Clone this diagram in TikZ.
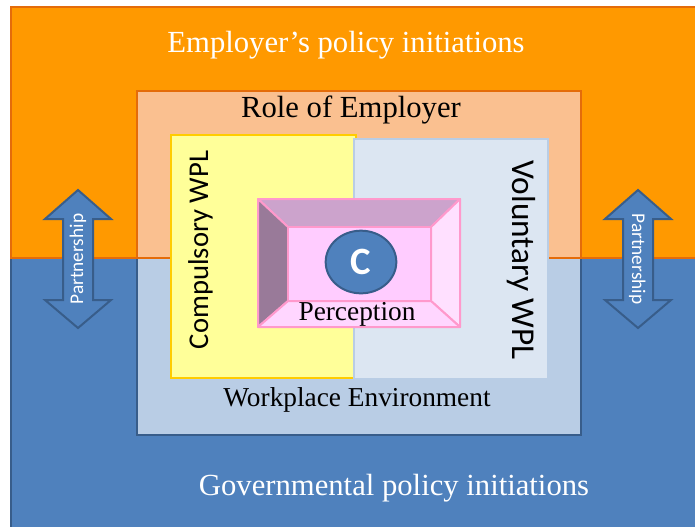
\documentclass[tikz,border=0pt]{standalone}
\usepackage{fontspec}
\setmainfont{Liberation Serif}
\setsansfont{Carlito}
\usetikzlibrary{shapes.geometric}
\definecolor{empOrange}{HTML}{FF9900}
\definecolor{empOrangeDark}{HTML}{E46C0A}
\definecolor{govBlue}{HTML}{4F81BD}
\definecolor{govBlueDark}{HTML}{385D8A}
\definecolor{rolePeach}{HTML}{FAC090}
\definecolor{workBlue}{HTML}{B9CDE5}
\definecolor{compYellow}{HTML}{FFFF99}
\definecolor{compGold}{HTML}{FFCC00}
\definecolor{volBlue}{HTML}{DCE6F2}
\definecolor{percPink}{HTML}{FF99CC}
\definecolor{percFace}{HTML}{FFCCFF}
\definecolor{bevelTop}{HTML}{CCA3CC}
\definecolor{bevelLeft}{HTML}{997A99}
\definecolor{bevelRight}{HTML}{FFE0FF}
\definecolor{bevelBottom}{HTML}{FFD6FF}
\tikzstyle{band}=[line width=1.5pt]
\tikzstyle{bevel}=[draw=percPink, line width=1.5pt, line join=round]
\tikzstyle{arrowline}=[draw=govBlueDark, fill=govBlue, line width=1.5pt]
\tikzstyle{bigtext}=[inner sep=0pt, font=\fontsize{23}{23}\selectfont]
\tikzstyle{midtext}=[inner sep=0pt, font=\fontsize{20.5}{20.5}\selectfont]
\tikzstyle{sidetext}=[inner sep=0pt, anchor=base, text=white, font=\sffamily\fontsize{14.5}{14.5}\selectfont]
\newcommand{\partnerArrow}[1]{\draw[arrowline, shift={(#1,0)}] (0,190) -- (33,219) -- (15,219) -- (15,300) -- (33,300) -- (0,328) -- (-33,300) -- (-15,300) -- (-15,219) -- (-33,219) -- cycle;}

\begin{document}
\begin{tikzpicture}[x=0.75pt,y=-0.75pt]
    \useasboundingbox (0,0) rectangle (695,526);
    \clip (0,0) rectangle (695,526);
    \fill[white] (0,0) rectangle (695,526);
    % policy bands
    \draw[band, fill=govBlue, draw=govBlueDark] (11,258) rectangle (710,540);
    \draw[band, fill=empOrange, draw=empOrangeDark] (11,7) rectangle (710,258);
    % employer and workplace
    \draw[band, fill=workBlue, draw=govBlueDark] (137,258) rectangle (581,435);
    \draw[band, fill=rolePeach, draw=empOrangeDark] (137,91) rectangle (581,258);
    % WPL boxes
    \draw[band, fill=compYellow, draw=compGold] (171,135) rectangle (356,378);
    \draw[band, fill=volBlue, draw=workBlue] (354,139) rectangle (548,379);
    % perception frame
    \draw[bevel, fill=bevelTop] (258,199) -- (460,199) -- (431,227) -- (288,227) -- cycle;
    \draw[bevel, fill=bevelLeft] (258,199) -- (288,227) -- (288,301) -- (258,327) -- cycle;
    \draw[bevel, fill=bevelRight] (460,199) -- (460,327) -- (431,301) -- (431,227) -- cycle;
    \draw[bevel, fill=bevelBottom] (258,327) -- (288,301) -- (431,301) -- (460,327) -- cycle;
    \draw[bevel, fill=percFace] (288,227) rectangle (431,301);
    % partnership arrows
    \partnerArrow{78}
    \partnerArrow{638}

    \node[bigtext, text=white, anchor=base] (empText) at (346,52) {Employer’s policy initiations};
    \node[bigtext, anchor=base] (roleText) at (351,117) {Role of Employer};
    \node[midtext, anchor=base] (workText) at (357,406) {Workplace Environment};
    \node[bigtext, text=white, anchor=base] (govText) at (394,495) {Governmental policy initiations};
    \node[midtext, anchor=base] (percText) at (357,320) {Perception};
    \node[ellipse, draw=govBlueDark, fill=govBlue, line width=1.5pt, minimum width=53pt, minimum height=47pt, inner sep=0pt, text=white, font=\sffamily\bfseries\fontsize{29}{29}\selectfont] (cNode) at (361,262) {C};
    \node[inner sep=0pt, rotate=90, anchor=base, font=\sffamily\fontsize{21.5}{21.5}\selectfont] (compText) at (208,250) {Compulsory WPL};
    \node[inner sep=0pt, rotate=-90, anchor=base, font=\sffamily\fontsize{25}{25}\selectfont] (volText) at (512,260) {Voluntary WPL};
    \node[sidetext, rotate=90] (leftPart) at (83,259) {Partnership};
    \node[sidetext, rotate=-90] (rightPart) at (632,259) {Partnership};
\end{tikzpicture}
\end{document}
